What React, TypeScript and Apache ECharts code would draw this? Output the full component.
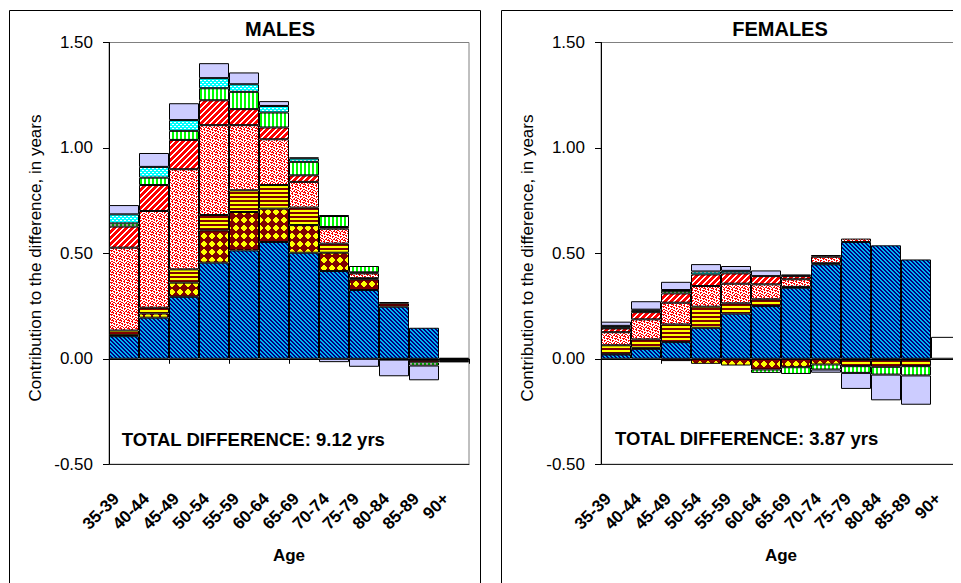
import React, { useEffect, useRef } from 'react';
import * as echarts from 'echarts';

const AGE_GROUPS = ['35-39', '40-44', '45-49', '50-54', '55-59', '60-64', '65-69', '70-74', '75-79', '80-84', '85-89', '90+'];
const Y_MIN = -0.5;
const Y_MAX = 1.5;
const Y_STEP = 0.5;

// MALES – components of the difference (stacked, bottom to top)
const maleNavyStripes = [0.107, 0.195, 0.294, 0.456, 0.514, 0.554, 0.503, 0.416, 0.326, 0.247, 0.147, 0.004];
const maleMaroonDots = [0.005, 0.020, 0.067, 0.153, 0.182, 0.158, 0.131, 0.087, 0.051, -0.004, -0.005, -0.004];
const maleYellowBands = [0.022, 0.027, 0.063, 0.073, 0.103, 0.112, 0.083, 0.043, 0.005, 0.016, -0.012, -0.004];
const maleRedSpeckles = [0.393, 0.459, 0.475, 0.426, 0.309, 0.217, 0.122, 0.071, 0.023, 0, 0, 0];
const maleRedDiagonal = [0.100, 0.123, 0.139, 0.118, 0.076, 0.056, 0.031, 0.008, 0.005, 0, 0, 0];
const maleGreenVertical = [0.015, 0.035, 0.043, 0.057, 0.082, 0.071, 0.064, 0.052, 0.030, 0.006, -0.015, -0.004];
const maleCyanDotted = [0.043, 0.051, 0.051, 0.048, 0.036, 0.031, 0.016, 0.004, 0, 0, 0, 0];
const maleLavender = [0.044, 0.066, 0.080, 0.071, 0.056, 0.023, 0.005, -0.016, -0.038, -0.079, -0.070, -0.004];
const maleWhite = [0, 0, 0, 0, 0, 0, 0, 0, 0, 0, 0, 0];

// FEMALES
const femaleNavyStripes = [0.020, 0.047, 0.079, 0.147, 0.214, 0.250, 0.337, 0.448, 0.554, 0.538, 0.471, 0];
const femaleMaroonDots = [0.004, 0.005, -0.011, -0.024, -0.032, -0.051, -0.040, -0.027, -0.005, -0.005, -0.005, 0];
const femaleYellowBands = [0.040, 0.040, 0.084, 0.100, 0.049, 0.032, 0.004, 0.005, -0.030, -0.033, -0.030, 0];
const femaleRedSpeckles = [0.062, 0.095, 0.103, 0.098, 0.093, 0.071, 0.036, 0.031, 0.016, 0, 0, 0];
const femaleRedDiagonal = [0.018, 0.034, 0.044, 0.055, 0.049, 0.039, 0.015, 0.008, 0, 0, 0, 0];
const femaleGreenVertical = [0.004, 0.008, 0.012, 0, 0, -0.016, -0.032, -0.024, -0.032, -0.037, -0.044, 0];
const femaleCyanDotted = [0.008, 0.004, 0.004, 0.014, 0.012, 0, 0, 0, 0, 0, 0, 0];
const femaleLavender = [0.020, 0.040, 0.039, 0.035, 0.023, 0.027, 0.008, -0.015, -0.076, -0.122, -0.139, 0];
const femaleWhite = [0, 0, 0, 0, 0, 0, 0, 0, 0, 0, 0, 0.104];

const TITLES = ['MALES', 'FEMALES'];
const TOTALS = ['TOTAL DIFFERENCE: 9.12 yrs', 'TOTAL DIFFERENCE: 3.87 yrs'];
const Y_TITLE = 'Contribution to the difference, in years';
const X_TITLE = 'Age';

const FONT = '"Liberation Sans", Arial, Helvetica, sans-serif';

function makeTile(w: number, h: number, fn: (x: number, y: number) => string) {
  const canvas = document.createElement('canvas');
  canvas.width = w;
  canvas.height = h;
  const ctx = canvas.getContext('2d') as CanvasRenderingContext2D;
  for (let y = 0; y < h; y++) {
    for (let x = 0; x < w; x++) {
      ctx.fillStyle = fn(x, y);
      ctx.fillRect(x, y, 1, 1);
    }
  }
  return { image: canvas.toDataURL(), repeat: 'repeat', imageWidth: w, imageHeight: h } as any;
}

function buildPatterns() {
  const navy = '#000080';
  const sky = '#00B4F0';
  const maroon = '#800000';
  const yellow = '#FFFF00';
  const red = '#FF0000';
  const white = '#FFFFFF';
  const green = '#00FF00';
  const cyan = '#00FFFF';

  const navyStripes = makeTile(4, 4, (x, y) => ((((x - y) % 4) + 4) % 4 < 2 ? sky : navy));
  const maroonDots = makeTile(8, 8, (x, y) => {
    const dx = x - 3.5;
    const dy = y - 3.5;
    return dx * dx + dy * dy <= 8 ? yellow : maroon;
  });
  const yellowBands = makeTile(1, 4, (_x, y) => (y < 2 ? maroon : yellow));
  const speckRows = [
    'rr..r..r',
    '.r.rr...',
    'r...r.rr',
    '.rr....r',
    '..r.rr..',
    'r...r..r',
    '.rr...r.',
    'r..r.rr.',
  ];
  const redSpeckles = makeTile(8, 8, (x, y) => (speckRows[y][x] === 'r' ? red : white));
  const redDiagonal = makeTile(6, 6, (x, y) => ((x + y) % 6 < 4 ? red : white));
  const greenVertical = makeTile(4, 1, (x) => (x < 2 ? green : white));
  const cyanRows = ['wwcc', 'cccc', 'ccww', 'cccc'];
  const cyanDotted = makeTile(4, 4, (x, y) => (cyanRows[y][x] === 'w' ? white : cyan));
  return [navyStripes, maroonDots, yellowBands, redSpeckles, redDiagonal, greenVertical, cyanDotted, '#CCCCFF', '#FFFFFF'];
}

const GRID_TOP = 34.5;
const GRID_H = 421.7;
const GRID_W = 360;
const GRID_LEFTS = [101, 593];

export default function App() {
  const ref = useRef<HTMLDivElement>(null);

  useEffect(() => {
    if (!ref.current) return;
    const chart = echarts.init(ref.current, undefined, { renderer: 'svg' });
    const fills = buildPatterns();
    const panels = [
      [maleNavyStripes, maleMaroonDots, maleYellowBands, maleRedSpeckles, maleRedDiagonal, maleGreenVertical, maleCyanDotted, maleLavender, maleWhite],
      [femaleNavyStripes, femaleMaroonDots, femaleYellowBands, femaleRedSpeckles, femaleRedDiagonal, femaleGreenVertical, femaleCyanDotted, femaleLavender, femaleWhite],
    ];

    const grids = GRID_LEFTS.map((left) => ({
      left,
      top: GRID_TOP,
      width: GRID_W,
      height: GRID_H,
      show: true,
      borderColor: '#808080',
      borderWidth: 1,
      backgroundColor: 'transparent',
    }));

    const xAxes: any[] = [];
    const yAxes: any[] = [];
    [0, 1].forEach((g) => {
      xAxes.push({
        type: 'category',
        gridIndex: g,
        data: AGE_GROUPS,
        position: 'bottom',
        boundaryGap: true,
        axisLine: { show: true, onZero: true, lineStyle: { color: '#000', width: 1 } },
        axisTick: { show: true, length: 5, inside: false, lineStyle: { color: '#000' } },
        axisLabel: { show: false },
        splitLine: { show: false },
      });
      xAxes.push({
        type: 'category',
        gridIndex: g,
        data: AGE_GROUPS,
        position: 'bottom',
        boundaryGap: true,
        axisLine: { show: true, onZero: false, lineStyle: { color: '#202020', width: 1 } },
        axisTick: { show: false },
        axisLabel: {
          show: true,
          interval: 0,
          rotate: 45,
          margin: 24,
          padding: [0, 11, 0, 0],
          fontSize: 17,
          fontWeight: 'bold',
          color: '#000',
          fontFamily: FONT,
        },
        splitLine: { show: false },
      });
      yAxes.push({
        type: 'value',
        gridIndex: g,
        min: Y_MIN,
        max: Y_MAX,
        interval: Y_STEP,
        position: 'left',
        axisLine: { show: true, onZero: false, lineStyle: { color: '#000', width: 1 } },
        axisTick: { show: true, length: 6, lineStyle: { color: '#000' } },
        axisLabel: {
          margin: 16,
          fontSize: 17,
          color: '#000',
          fontFamily: FONT,
          formatter: (v: number) => v.toFixed(2),
        },
        splitLine: { show: false },
      });
    });

    const series: any[] = [];
    panels.forEach((arrs, g) => {
      arrs.forEach((arr, i) => {
        series.push({
          type: 'bar',
          name: `p${g}s${i}`,
          xAxisIndex: g * 2,
          yAxisIndex: g,
          stack: `panel${g}`,
          barCategoryGap: '0%',
          data: arr.map((v) => (v === 0 ? null : v)),
          itemStyle: { color: fills[i], borderColor: '#000', borderWidth: 1 },
          silent: true,
          emphasis: { disabled: true },
        });
      });
    });

    const textStyle = (font: string, align: string, vAlign: string) => ({
      fill: '#000',
      font,
      align,
      textAlign: align,
      verticalAlign: vAlign,
      textVerticalAlign: vAlign,
    });

    const graphic: any[] = [
      { type: 'rect', silent: true, shape: { x: 1.5, y: 2.5, width: 471, height: 640 }, style: { fill: 'none', stroke: '#000', lineWidth: 1 } },
      { type: 'rect', silent: true, shape: { x: 493.5, y: 2.5, width: 520, height: 640 }, style: { fill: 'none', stroke: '#000', lineWidth: 1 } },
      { type: 'text', silent: true, x: 272, y: 21, style: { text: TITLES[0], ...textStyle(`bold 20px ${FONT}`, 'center', 'middle') } },
      { type: 'text', silent: true, x: 772, y: 21, style: { text: TITLES[1], ...textStyle(`bold 20px ${FONT}`, 'center', 'middle') } },
      { type: 'text', silent: true, x: 113.7, y: 431.3, style: { text: TOTALS[0], ...textStyle(`bold 18.5px ${FONT}`, 'left', 'middle') } },
      { type: 'text', silent: true, x: 607, y: 430.5, style: { text: TOTALS[1], ...textStyle(`bold 18.5px ${FONT}`, 'left', 'middle') } },
      { type: 'text', silent: true, x: 281, y: 547, style: { text: X_TITLE, ...textStyle(`bold 17px ${FONT}`, 'center', 'middle') } },
      { type: 'text', silent: true, x: 773, y: 547, style: { text: X_TITLE, ...textStyle(`bold 17px ${FONT}`, 'center', 'middle') } },
      { type: 'text', silent: true, x: 27.5, y: 250, rotation: Math.PI / 2, style: { text: Y_TITLE, ...textStyle(`17px ${FONT}`, 'center', 'middle') } },
      { type: 'text', silent: true, x: 519.5, y: 250, rotation: Math.PI / 2, style: { text: Y_TITLE, ...textStyle(`17px ${FONT}`, 'center', 'middle') } },
    ];

    chart.setOption({
      animation: false,
      textStyle: { fontFamily: FONT },
      tooltip: { show: false },
      grid: grids,
      xAxis: xAxes,
      yAxis: yAxes,
      series,
      graphic,
    });

    return () => {
      chart.dispose();
    };
  }, []);

  return <div ref={ref} style={{ width: 953, height: 575 }} />;
}
